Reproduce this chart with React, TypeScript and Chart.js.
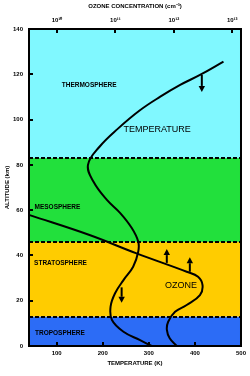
import React, { useEffect, useRef } from "react";
import { Chart, registerables } from "chart.js";

Chart.register(...registerables);

// ---- Data ----
// Temperature profile (altitude km -> temperature K)
const tempAltitudes = [0, 2.6, 6.3, 11.5, 17.4, 23.4, 29.1, 35, 41.6, 46.1, 52.1, 58.7, 64.5, 72.5, 80, 88, 96, 104, 110, 115.3, 119.7, 125.6];
const temperatureK = [306, 281, 245, 220, 217, 227, 245, 266, 277, 277, 263, 238, 209, 180, 168, 193, 233, 280, 324, 368, 411, 462];

// Ozone profile (altitude km -> concentration cm^-3)
const ozoneAltitudes = [0, 3.4, 7.1, 10.7, 15.1, 18.1, 22.5, 26.9, 30.6, 32.8, 40.9, 49, 57.8];
const ozoneConc = [1.12e12, 8.5e11, 7.6e11, 8.0e11, 1.05e12, 1.66e12, 2.8e12, 3.1e12, 2.6e12, 1.66e12, 2.3e11, 3.6e10, 3.4e9];

// Atmospheric layers
const layerNames = ["TROPOSPHERE", "STRATOSPHERE", "MESOSPHERE", "THERMOSPHERE"];
const layerBottoms = [0, 13, 46, 83];
const layerTops = [13, 46, 83, 140];
const layerLabelTemp = [53, 51, 52, 111];
const layerLabelAlt = [5.5, 36.6, 61.2, 115.3];

// Curve labels
const curveNames = ["TEMPERATURE", "OZONE"];
const curveLabelTemp = [245, 335];
const curveLabelAlt = [95.8, 26.6];

// Arrows (temperature K, from altitude, to altitude)
const arrowTemp = [415, 339, 389, 241];
const arrowFromAlt = [119.7, 36.7, 32.8, 25.9];
const arrowToAlt = [112.2, 42.8, 39.2, 19.1];

// Axis ticks
const tempTicks = [100, 200, 300, 400, 500];
const ozoneTicks = [1e10, 1e11, 1e12, 1e13];
const ozoneTickLabels = ["10\u00b9\u2070", "10\u00b9\u00b9", "10\u00b9\u00b2", "10\u00b9\u00b3"];
const altitudeTicks = [0, 20, 40, 60, 80, 100, 120, 140];

// ---- Styles ----
const layerColors = ["#2C6CF6", "#FFCC00", "#22E03C", "#80F8FF"];
const FONT = "'Liberation Sans', Arial, sans-serif";

const overlayPlugin = {
  id: "overlay",
  beforeDatasetsDraw(chart: any) {
    const { ctx, chartArea: a, scales } = chart;
    const y = scales.y;
    ctx.save();
    for (let i = 0; i < layerNames.length; i++) {
      const top = y.getPixelForValue(layerTops[i]);
      const bot = y.getPixelForValue(layerBottoms[i]);
      ctx.fillStyle = layerColors[i];
      ctx.fillRect(a.left, top, a.right - a.left, bot - top);
    }
    ctx.strokeStyle = "#000";
    ctx.lineWidth = 2;
    ctx.setLineDash([4, 2]);
    for (let i = 0; i < layerTops.length - 1; i++) {
      const py = Math.round(y.getPixelForValue(layerTops[i]));
      ctx.beginPath();
      ctx.moveTo(a.left, py);
      ctx.lineTo(a.right, py);
      ctx.stroke();
    }
    ctx.restore();
  },
  afterDatasetsDraw(chart: any) {
    const { ctx, chartArea: a, scales } = chart;
    const x = scales.x;
    const y = scales.y;
    const x2 = scales.x2;
    ctx.save();
    ctx.strokeStyle = "#000";
    ctx.lineWidth = 2;
    ctx.setLineDash([]);
    ctx.strokeRect(a.left, a.top, a.right - a.left, a.bottom - a.top);
    const tl = 4;
    ctx.beginPath();
    y.ticks.forEach((t: any) => {
      if (t.value <= y.min || t.value >= y.max) return;
      const p = Math.round(y.getPixelForValue(t.value));
      ctx.moveTo(a.left, p);
      ctx.lineTo(a.left + tl, p);
    });
    x.ticks.forEach((t: any) => {
      if (t.value >= x.max) return;
      const p = Math.round(x.getPixelForValue(t.value));
      ctx.moveTo(p, a.bottom);
      ctx.lineTo(p, a.bottom - tl);
    });
    x2.ticks.forEach((t: any) => {
      const p = Math.round(x2.getPixelForValue(t.value));
      ctx.moveTo(p, a.top);
      ctx.lineTo(p, a.top + tl);
    });
    ctx.stroke();
    for (let i = 0; i < arrowTemp.length; i++) {
      const px = x.getPixelForValue(arrowTemp[i]);
      const y0 = y.getPixelForValue(arrowFromAlt[i]);
      const y1 = y.getPixelForValue(arrowToAlt[i]);
      const dir = y1 > y0 ? 1 : -1;
      const head = 6;
      ctx.lineWidth = 2;
      ctx.beginPath();
      ctx.moveTo(px, y0);
      ctx.lineTo(px, y1 - dir * head);
      ctx.stroke();
      ctx.fillStyle = "#000";
      ctx.beginPath();
      ctx.moveTo(px - 3.2, y1 - dir * head);
      ctx.lineTo(px + 3.2, y1 - dir * head);
      ctx.lineTo(px, y1);
      ctx.closePath();
      ctx.fill();
    }
    ctx.fillStyle = "#000";
    ctx.textAlign = "left";
    ctx.textBaseline = "middle";
    ctx.font = `bold 6.5px ${FONT}`;
    for (let i = 0; i < layerNames.length; i++) {
      ctx.fillText(layerNames[i], x.getPixelForValue(layerLabelTemp[i]), y.getPixelForValue(layerLabelAlt[i]));
    }
    ctx.font = `9px ${FONT}`;
    for (let i = 0; i < curveNames.length; i++) {
      ctx.fillText(curveNames[i], x.getPixelForValue(curveLabelTemp[i]), y.getPixelForValue(curveLabelAlt[i]));
    }
    ctx.restore();
  },
};

export default function App() {
  const ref = useRef<HTMLCanvasElement | null>(null);
  useEffect(() => {
    if (!ref.current) return;
    const tickFont = { family: FONT, size: 6, weight: "bold" as const };
    const chart = new Chart(ref.current, {
      type: "scatter",
      data: {
        datasets: [
          {
            label: "Temperature",
            data: tempAltitudes.map((alt, i) => ({ x: temperatureK[i], y: alt })),
            xAxisID: "x",
            yAxisID: "y",
            showLine: true,
            borderColor: "#000",
            borderWidth: 2,
            pointRadius: 0,
            tension: 0.4,
            fill: false,
          },
          {
            label: "Ozone",
            data: ozoneAltitudes.map((alt, i) => ({ x: ozoneConc[i], y: alt })),
            xAxisID: "x2",
            yAxisID: "y",
            showLine: true,
            borderColor: "#000",
            borderWidth: 2,
            pointRadius: 0,
            tension: 0.4,
            fill: false,
          },
        ],
      },
      options: {
        animation: false,
        responsive: false,
        devicePixelRatio: 1,
        layout: { padding: { left: 0, right: 9, top: 0, bottom: 0 } },
        plugins: { legend: { display: false }, tooltip: { enabled: false } },
        scales: {
          y: {
            type: "linear",
            position: "left",
            min: 0,
            max: 140,
            afterBuildTicks: (s: any) => {
              s.ticks = altitudeTicks.map((v) => ({ value: v }));
            },
            afterFit: (s: any) => {
              s.width = 29;
            },
            grid: { display: false, drawTicks: false },
            border: { display: false },
            ticks: { font: tickFont, color: "#000", padding: 6, autoSkip: false },
            title: { display: true, text: "ALTITUDE (km)", font: tickFont, color: "#000", padding: { top: 4, bottom: 0 } },
          },
          x: {
            type: "linear",
            position: "bottom",
            min: 40,
            max: 500,
            afterBuildTicks: (s: any) => {
              s.ticks = tempTicks.map((v) => ({ value: v }));
            },
            afterFit: (s: any) => {
              s.height = 30;
            },
            grid: { display: false, drawTicks: false },
            border: { display: false },
            ticks: { font: tickFont, color: "#000", padding: 4, autoSkip: false, maxRotation: 0, minRotation: 0 },
            title: { display: true, text: "TEMPERATURE (K)", font: tickFont, color: "#000", padding: { top: 0, bottom: 9 } },
          },
          x2: {
            type: "logarithmic",
            position: "top",
            min: Math.pow(10, 9.52),
            max: Math.pow(10, 13.15),
            afterBuildTicks: (s: any) => {
              s.ticks = ozoneTicks.map((v) => ({ value: v }));
            },
            afterFit: (s: any) => {
              s.height = 29;
            },
            grid: { display: false, drawTicks: false },
            border: { display: false },
            ticks: {
              font: tickFont,
              color: "#000",
              padding: 5,
              autoSkip: false,
              maxRotation: 0,
              minRotation: 0,
              callback: (v: any) => {
                const idx = ozoneTicks.indexOf(Number(v));
                return idx >= 0 ? ozoneTickLabels[idx] : "";
              },
            },
            title: { display: true, text: "OZONE CONCENTRATION (cm\u207b\u00b3)", font: tickFont, color: "#000", padding: { top: 3, bottom: 0 } },
          },
        },
      } as any,
      plugins: [overlayPlugin],
    });
    return () => chart.destroy();
  }, []);
  return (
    <div style={{ position: "fixed", left: 0, top: 0, width: 250, height: 376, background: "#fff" }}>
      <canvas ref={ref} width={250} height={376} style={{ display: "block", width: 250, height: 376 }} />
    </div>
  );
}
